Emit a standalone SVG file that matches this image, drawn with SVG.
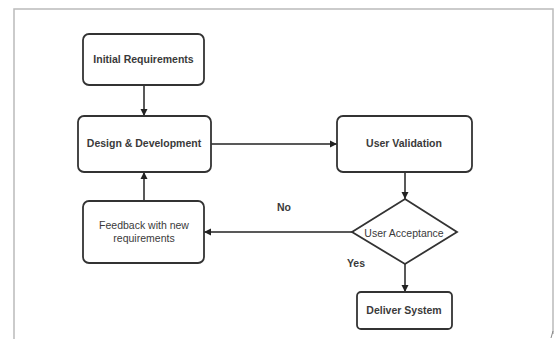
<svg xmlns="http://www.w3.org/2000/svg" width="559" height="339" viewBox="0 0 559 339">
<defs>
<marker id="ah" markerWidth="8" markerHeight="8" refX="7" refY="4" orient="auto" markerUnits="userSpaceOnUse">
<path d="M0,0.5 L7,4 L0,7.5 Z" fill="#222"/>
</marker>
</defs>
<style>
.box{fill:#fff;stroke:#333;stroke-width:1.8}
.t{font-family:"Liberation Sans",Arial,sans-serif;font-size:10.5px;fill:#3a3a3a;text-anchor:middle;dominant-baseline:central}
.b{font-weight:bold}
.c{fill:none;stroke:#222;stroke-width:1.5;marker-end:url(#ah)}
.frame{fill:none;stroke:#bbb;stroke-width:1.5}
</style>
<rect width="559" height="339" fill="#fff"/>
<path class="frame" d="M14,339 L14,9 L553,9 L553,334"/>
<path d="M553,331 L551,338" stroke="#888" stroke-width="1" fill="none"/>
<g id="connectors">
<line class="c" x1="144" y1="85" x2="144" y2="116"/>
<line class="c" x1="211" y1="144" x2="337" y2="144"/>
<line class="c" x1="405" y1="172" x2="405" y2="199"/>
<line class="c" x1="352" y1="232" x2="204" y2="232"/>
<line class="c" x1="144" y1="201" x2="144" y2="172"/>
<line class="c" x1="405" y1="264" x2="405" y2="292"/>
<text class="t b" x="284" y="207" font-size="10">No</text>
<text class="t b" x="356" y="263" font-size="10">Yes</text>
</g>
<g id="initial">
<rect class="box" x="83" y="34" width="121" height="51" rx="6"/>
<text class="t b" x="143.5" y="59">Initial Requirements</text>
</g>
<g id="design">
<rect class="box" x="78" y="116" width="133" height="56" rx="6"/>
<text class="t b" x="144" y="143">Design &amp; Development</text>
</g>
<g id="validation">
<rect class="box" x="337" y="116" width="135" height="56" rx="6"/>
<text class="t b" x="404" y="143">User Validation</text>
</g>
<g id="acceptance">
<polygon class="box" points="405,199 457,232 405,264 352,232"/>
<text class="t" x="404" y="233" font-size="9.5">User Acceptance</text>
</g>
<g id="feedback">
<rect class="box" x="83" y="201" width="121" height="62" rx="6"/>
<text class="t" x="144" y="225" font-size="10">Feedback with new</text>
<text class="t" x="144" y="238" font-size="10">requirements</text>
</g>
<g id="deliver">
<rect class="box" x="357" y="292" width="95" height="37" rx="4"/>
<text class="t b" x="404" y="310" font-size="10">Deliver System</text>
</g>
</svg>
